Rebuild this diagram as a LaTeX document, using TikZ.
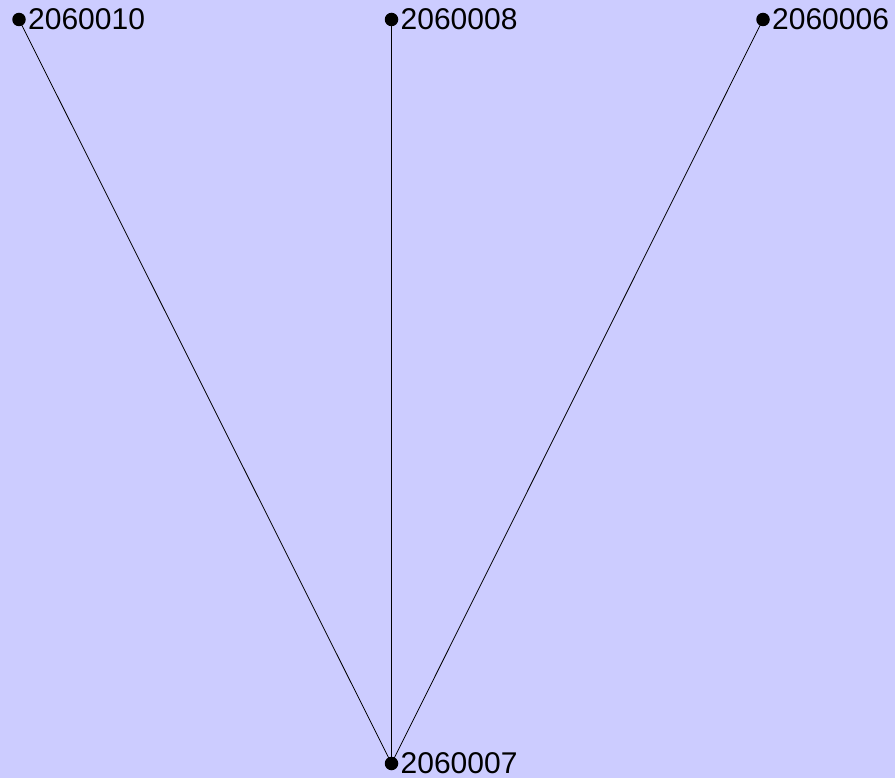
\documentclass[tikz,border=0pt]{standalone}
\usepackage{fontspec}
\setmainfont{Liberation Sans}
\begin{document}
\begin{tikzpicture}[x=1pt,y=-1pt,
  dot/.style={circle,fill=black,inner sep=0pt,minimum size=13.5pt},
  lbl/.style={anchor=base west,inner sep=0pt,font=\fontsize{30}{32}\selectfont},
  edge/.style={draw=black,line width=0.8pt}]
\fill[fill={rgb,255:red,204;green,204;blue,255}] (0,0) rectangle (895,778);
\useasboundingbox (0,0) rectangle (895,778);
\node[dot] (a) at (19,19.5) {};
\node[dot] (b) at (391.5,19.5) {};
\node[dot] (c) at (763,19.5) {};
\node[dot] (d) at (391.5,763.5) {};
\draw[edge] (a.center) -- (d.center);
\draw[edge] (b.center) -- (d.center);
\draw[edge] (c.center) -- (d.center);
\node[lbl] (la) at (28,29.5) {2060010};
\node[lbl] (lb) at (400.5,29.5) {2060008};
\node[lbl] (lc) at (772,29.5) {2060006};
\node[lbl] (ld) at (400.5,773) {2060007};
\end{tikzpicture}
\end{document}
